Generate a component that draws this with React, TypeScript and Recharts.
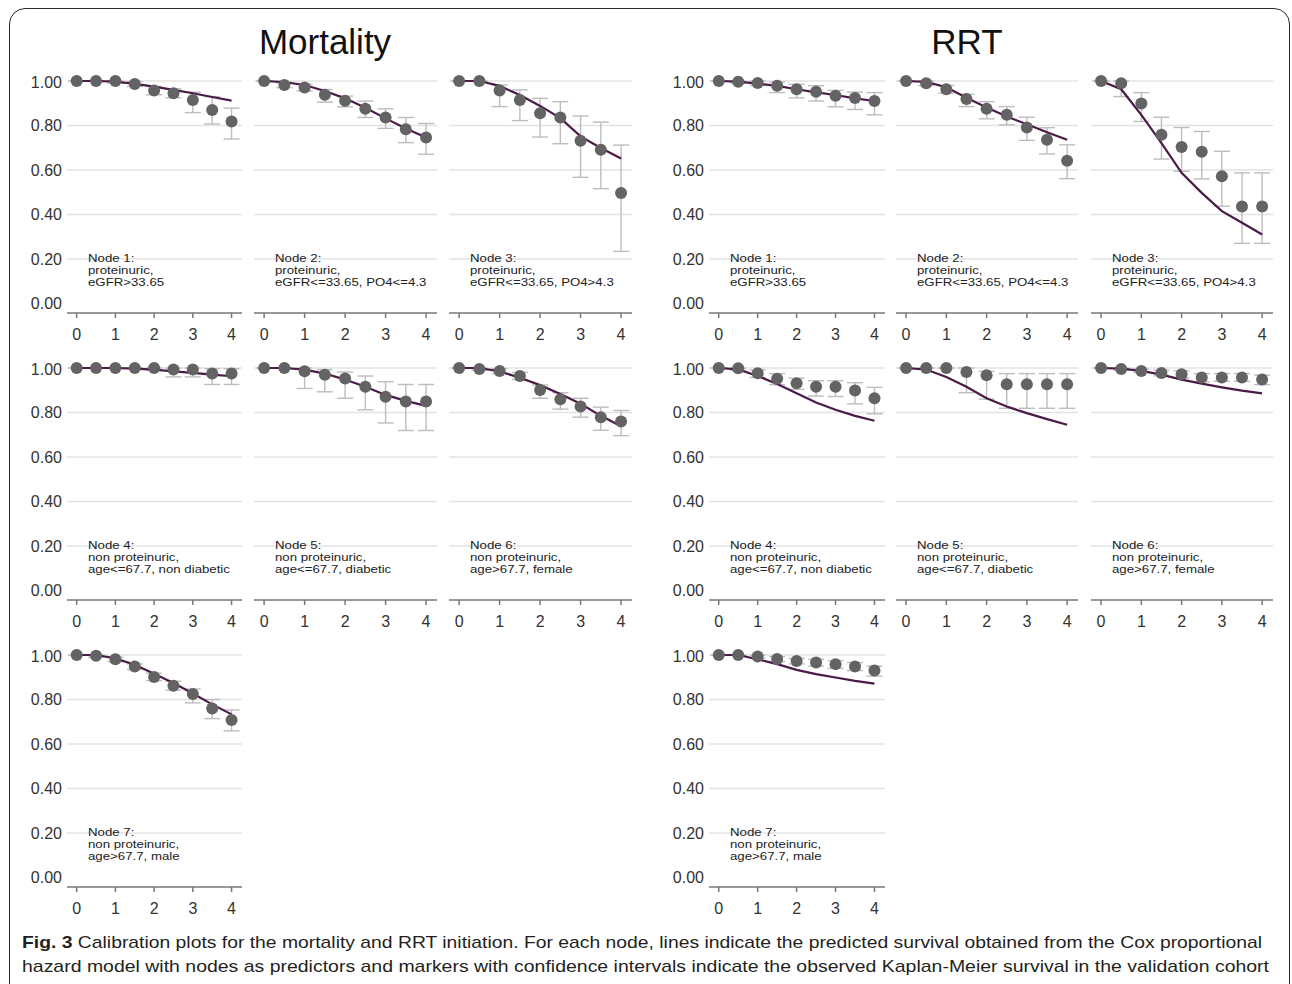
import {
  ComposedChart,
  ErrorBar,
  Line,
  ReferenceLine,
  Scatter,
  XAxis,
  YAxis,
} from "recharts";

// years of follow-up
const TIME = [0, 0.5, 1, 1.5, 2, 2.5, 3, 3.5, 4];
const X_TICKS = [0, 1, 2, 3, 4];
const Y_TICKS = [0, 0.2, 0.4, 0.6, 0.8, 1];
const GRID_VALUES = [0.2, 0.4, 0.6, 0.8, 1];

const GROUP_TITLES = ["Mortality", "RRT"];

const NODE_LABELS = [
  ["Node 1:", "proteinuric,", "eGFR>33.65"],
  ["Node 2:", "proteinuric,", "eGFR<=33.65, PO4<=4.3"],
  ["Node 3:", "proteinuric,", "eGFR<=33.65, PO4>4.3"],
  ["Node 4:", "non proteinuric,", "age<=67.7, non diabetic"],
  ["Node 5:", "non proteinuric,", "age<=67.7, diabetic"],
  ["Node 6:", "non proteinuric,", "age>67.7, female"],
  ["Node 7:", "non proteinuric,", "age>67.7, male"],
];

// Mortality: observed KM, CI low, CI high, predicted Cox
const mortObs = [
  [1, 1, 1, 0.987, 0.957, 0.945, 0.915, 0.87, 0.818],
  [1, 0.982, 0.971, 0.938, 0.911, 0.875, 0.836, 0.783, 0.746],
  [1, 1, 0.957, 0.915, 0.855, 0.836, 0.731, 0.691, 0.497],
  [1, 1, 1, 1, 1, 0.993, 0.993, 0.975, 0.975],
  [1, 1, 0.985, 0.97, 0.953, 0.916, 0.871, 0.849, 0.849],
  [1, 0.996, 0.987, 0.964, 0.901, 0.859, 0.827, 0.779, 0.759],
  [1, 0.997, 0.981, 0.948, 0.901, 0.862, 0.825, 0.759, 0.708],
];
const mortLo = [
  [1, 1, 0.99, 0.975, 0.938, 0.925, 0.858, 0.807, 0.739],
  [1, 0.97, 0.955, 0.905, 0.884, 0.836, 0.787, 0.723, 0.671],
  [1, 1, 0.885, 0.822, 0.748, 0.718, 0.567, 0.516, 0.234],
  [1, 1, 1, 1, 0.99, 0.96, 0.96, 0.926, 0.926],
  [1, 1, 0.908, 0.893, 0.864, 0.812, 0.753, 0.719, 0.719],
  [1, 0.99, 0.975, 0.948, 0.864, 0.815, 0.779, 0.72, 0.696],
  [1, 0.99, 0.97, 0.935, 0.885, 0.842, 0.785, 0.714, 0.659],
];
const mortHi = [
  [1, 1, 1, 0.998, 0.975, 0.965, 0.95, 0.93, 0.878],
  [1, 0.992, 0.985, 0.962, 0.932, 0.91, 0.875, 0.836, 0.809],
  [1, 1, 0.982, 0.96, 0.922, 0.907, 0.843, 0.815, 0.712],
  [1, 1, 1, 1, 1, 1, 1, 0.997, 0.997],
  [1, 1, 1, 0.993, 0.982, 0.964, 0.938, 0.926, 0.926],
  [1, 1, 0.997, 0.98, 0.923, 0.889, 0.864, 0.824, 0.809],
  [1, 1, 0.99, 0.96, 0.918, 0.882, 0.847, 0.8, 0.753],
];
const mortPred = [
  [1, 1, 0.997, 0.987, 0.975, 0.96, 0.945, 0.928, 0.912],
  [1, 0.995, 0.982, 0.955, 0.922, 0.88, 0.832, 0.787, 0.746],
  [1, 1, 0.978, 0.937, 0.888, 0.833, 0.751, 0.699, 0.652],
  [1, 1, 1, 0.997, 0.993, 0.985, 0.978, 0.97, 0.963],
  [1, 1, 0.993, 0.975, 0.948, 0.916, 0.879, 0.852, 0.83],
  [1, 1, 0.985, 0.956, 0.923, 0.883, 0.839, 0.785, 0.738],
  [1, 1, 0.985, 0.956, 0.916, 0.874, 0.827, 0.778, 0.733],
];

// RRT initiation
const rrtObs = [
  [1, 0.997, 0.991, 0.979, 0.963, 0.952, 0.934, 0.924, 0.91],
  [1, 0.99, 0.963, 0.919, 0.875, 0.848, 0.791, 0.736, 0.642],
  [1, 0.99, 0.899, 0.758, 0.703, 0.682, 0.572, 0.436, 0.436],
  [1, 0.999, 0.976, 0.952, 0.931, 0.916, 0.916, 0.899, 0.864],
  [1, 1, 1, 0.982, 0.967, 0.927, 0.927, 0.927, 0.927],
  [1, 0.996, 0.987, 0.978, 0.972, 0.957, 0.957, 0.957, 0.948],
  [1, 1, 0.993, 0.982, 0.973, 0.966, 0.959, 0.948, 0.93],
];
const rrtLo = [
  [1, 0.99, 0.98, 0.948, 0.924, 0.91, 0.884, 0.872, 0.848],
  [1, 0.98, 0.945, 0.885, 0.83, 0.803, 0.733, 0.672, 0.561],
  [1, 0.93, 0.818, 0.649, 0.594, 0.56, 0.437, 0.27, 0.27],
  [1, 0.99, 0.958, 0.925, 0.904, 0.874, 0.872, 0.839, 0.794],
  [1, 1, 1, 0.889, 0.86, 0.819, 0.819, 0.819, 0.819],
  [1, 0.99, 0.98, 0.965, 0.955, 0.938, 0.94, 0.94, 0.925],
  [1, 1, 0.985, 0.97, 0.96, 0.95, 0.94, 0.93, 0.905],
];
const rrtHi = [
  [1, 1, 1, 0.995, 0.985, 0.979, 0.958, 0.95, 0.948],
  [1, 1, 0.98, 0.94, 0.907, 0.885, 0.837, 0.79, 0.713],
  [1, 1, 0.948, 0.837, 0.791, 0.773, 0.684, 0.587, 0.587],
  [1, 1, 0.991, 0.975, 0.954, 0.943, 0.943, 0.934, 0.913],
  [1, 1, 1, 1, 0.985, 0.975, 0.975, 0.975, 0.975],
  [1, 1, 0.995, 0.99, 0.988, 0.975, 0.975, 0.975, 0.968],
  [1, 1, 1, 0.993, 0.985, 0.98, 0.975, 0.966, 0.95],
];
const rrtPred = [
  [1, 0.997, 0.988, 0.978, 0.963, 0.949, 0.937, 0.922, 0.91],
  [1, 0.996, 0.972, 0.925, 0.881, 0.84, 0.806, 0.77, 0.736],
  [1, 0.963, 0.848, 0.721, 0.587, 0.497, 0.415, 0.363, 0.31],
  [1, 0.994, 0.964, 0.928, 0.887, 0.845, 0.812, 0.785, 0.763],
  [1, 0.993, 0.96, 0.916, 0.864, 0.827, 0.797, 0.77, 0.745],
  [1, 0.997, 0.987, 0.97, 0.948, 0.93, 0.913, 0.898, 0.886],
  [1, 1, 0.981, 0.959, 0.933, 0.914, 0.899, 0.884, 0.871],
];

const CAPTION_1 =
  " Calibration plots for the mortality and RRT initiation. For each node, lines indicate the predicted survival obtained from the Cox proportional";
const CAPTION_2 =
  "hazard model with nodes as predictors and markers with confidence intervals indicate the observed Kaplan-Meier survival in the validation cohort";

const FONT = "'Liberation Sans', Arial, sans-serif";
const X_DOMAIN = [-0.25, 4.27];
const Y_DOMAIN = [-0.043, 1.036];
const PLOT_H = 240;
const AXIS_H = 30;
const Y_AXIS_W = 50;

// plot-area left edge and width of each column (mortality cols then RRT cols)
const COLS = [
  { left: 67, width: 175 },
  { left: 254, width: 183 },
  { left: 449, width: 183 },
  { left: 709, width: 176 },
  { left: 896, width: 182 },
  { left: 1091, width: 182 },
];
const ROW_TOPS = [73, 360, 647];

function buildRows(obs: number[], lo: number[], hi: number[], pred: number[]) {
  return TIME.map((t, i) => ({
    t,
    obs: obs[i],
    pred: pred[i],
    err: [obs[i] - lo[i], hi[i] - obs[i]],
  }));
}

const Dot = (props: { cx?: number; cy?: number }) => {
  const { cx = 0, cy = 0 } = props;
  return <circle cx={cx} cy={cy} r={6} fill="#636363" />;
};

function Panel({
  col,
  row,
  node,
  data,
}: {
  col: number;
  row: number;
  node: number;
  data: ReturnType<typeof buildRows>;
}) {
  const c = COLS[col];
  const showY = col === 0 || col === 3;
  const left = showY ? c.left - Y_AXIS_W : c.left;
  const width = showY ? c.width + Y_AXIS_W : c.width;
  const top = ROW_TOPS[row];
  // x position of tick 0
  const zeroX = c.left + (0.25 / (X_DOMAIN[1] - X_DOMAIN[0])) * c.width;
  const label = NODE_LABELS[node];
  return (
    <>
      <div style={{ position: "absolute", left, top }}>
        <ComposedChart
          width={width}
          height={PLOT_H + AXIS_H}
          data={data}
          margin={{ top: 0, right: 0, bottom: 0, left: 0 }}
        >
          <XAxis
            type="number"
            dataKey="t"
            domain={X_DOMAIN}
            ticks={X_TICKS}
            allowDataOverflow
            height={AXIS_H}
            axisLine={{ stroke: "#777", strokeWidth: 1.5 }}
            tickLine={{ stroke: "#777", strokeWidth: 1.5 }}
            tickSize={5}
            tickMargin={11}
            tick={{ fontSize: 16, fill: "#333", fontFamily: FONT }}
          />
          <YAxis
            type="number"
            domain={Y_DOMAIN}
            ticks={Y_TICKS}
            allowDataOverflow
            hide={!showY}
            width={Y_AXIS_W}
            axisLine={false}
            tickLine={false}
            tickSize={0}
            tickMargin={5}
            tickFormatter={(v: number) => v.toFixed(2)}
            tick={{ fontSize: 16, fill: "#333", fontFamily: FONT }}
          />
          {GRID_VALUES.map((v) => (
            <ReferenceLine key={v} y={v} stroke="#e3e3e3" strokeWidth={1.5} />
          ))}
          <Scatter dataKey="obs" shape={<Dot />} isAnimationActive={false}>
            <ErrorBar
              dataKey="err"
              direction="y"
              width={8}
              stroke="#bdbdbd"
              strokeWidth={1.4}
              isAnimationActive={false}
            />
          </Scatter>
          <Line
            type="linear"
            dataKey="pred"
            stroke="#4b1b47"
            strokeWidth={2.2}
            dot={false}
            activeDot={false}
            isAnimationActive={false}
          />
        </ComposedChart>
      </div>
      <div
        style={{
          position: "absolute",
          left: zeroX + 11,
          top: top + 179,
          fontFamily: FONT,
          fontSize: 11.5,
          color: "#222",
          transform: "scaleX(1.15)",
          transformOrigin: "left top",
          whiteSpace: "nowrap",
        }}
      >
        <div style={{ lineHeight: "13px" }}>{label[0]}</div>
        <div style={{ lineHeight: "11.5px" }}>{label[1]}</div>
        <div style={{ lineHeight: "11.5px" }}>{label[2]}</div>
      </div>
    </>
  );
}

// [column, row, node index] for each group
const MORT_LAYOUT = [
  [0, 0, 0],
  [1, 0, 1],
  [2, 0, 2],
  [0, 1, 3],
  [1, 1, 4],
  [2, 1, 5],
  [0, 2, 6],
];

export default function App() {
  return (
    <div
      style={{
        position: "absolute",
        left: 0,
        top: 0,
        width: 1292,
        height: 984,
        overflow: "hidden",
        background: "#fff",
      }}
    >
      <div
        style={{
          position: "absolute",
          left: 9,
          top: 8,
          width: 1281,
          height: 1100,
          boxSizing: "border-box",
          border: "1.6px solid #2a2a2a",
          borderRadius: 16,
        }}
      />
      <div
        style={{
          position: "absolute",
          left: 325,
          top: 19,
          transform: "translateX(-50%)",
          fontFamily: FONT,
          fontSize: 35,
          color: "#111",
          lineHeight: "46px",
        }}
      >
        {GROUP_TITLES[0]}
      </div>
      <div
        style={{
          position: "absolute",
          left: 967,
          top: 19,
          transform: "translateX(-50%)",
          fontFamily: FONT,
          fontSize: 35,
          color: "#111",
          lineHeight: "46px",
        }}
      >
        {GROUP_TITLES[1]}
      </div>
      {MORT_LAYOUT.map(([col, row, node]) => (
        <Panel
          key={`m${node}`}
          col={col}
          row={row}
          node={node}
          data={buildRows(mortObs[node], mortLo[node], mortHi[node], mortPred[node])}
        />
      ))}
      {MORT_LAYOUT.map(([col, row, node]) => (
        <Panel
          key={`r${node}`}
          col={col + 3}
          row={row}
          node={node}
          data={buildRows(rrtObs[node], rrtLo[node], rrtHi[node], rrtPred[node])}
        />
      ))}
      <svg
        width={1292}
        height={64}
        style={{ position: "absolute", left: 0, top: 920 }}
      >
        <text
          x={22}
          y={28}
          textLength={1240}
          lengthAdjust="spacingAndGlyphs"
          fontFamily="'Liberation Sans Narrow', 'Liberation Sans', sans-serif"
          fontSize={17}
          fill="#231f20"
        >
          <tspan fontWeight="bold">Fig. 3</tspan>
          {CAPTION_1}
        </text>
        <text
          x={22}
          y={52}
          textLength={1247}
          lengthAdjust="spacingAndGlyphs"
          fontFamily="'Liberation Sans Narrow', 'Liberation Sans', sans-serif"
          fontSize={17}
          fill="#231f20"
        >
          {CAPTION_2}
        </text>
      </svg>
    </div>
  );
}
